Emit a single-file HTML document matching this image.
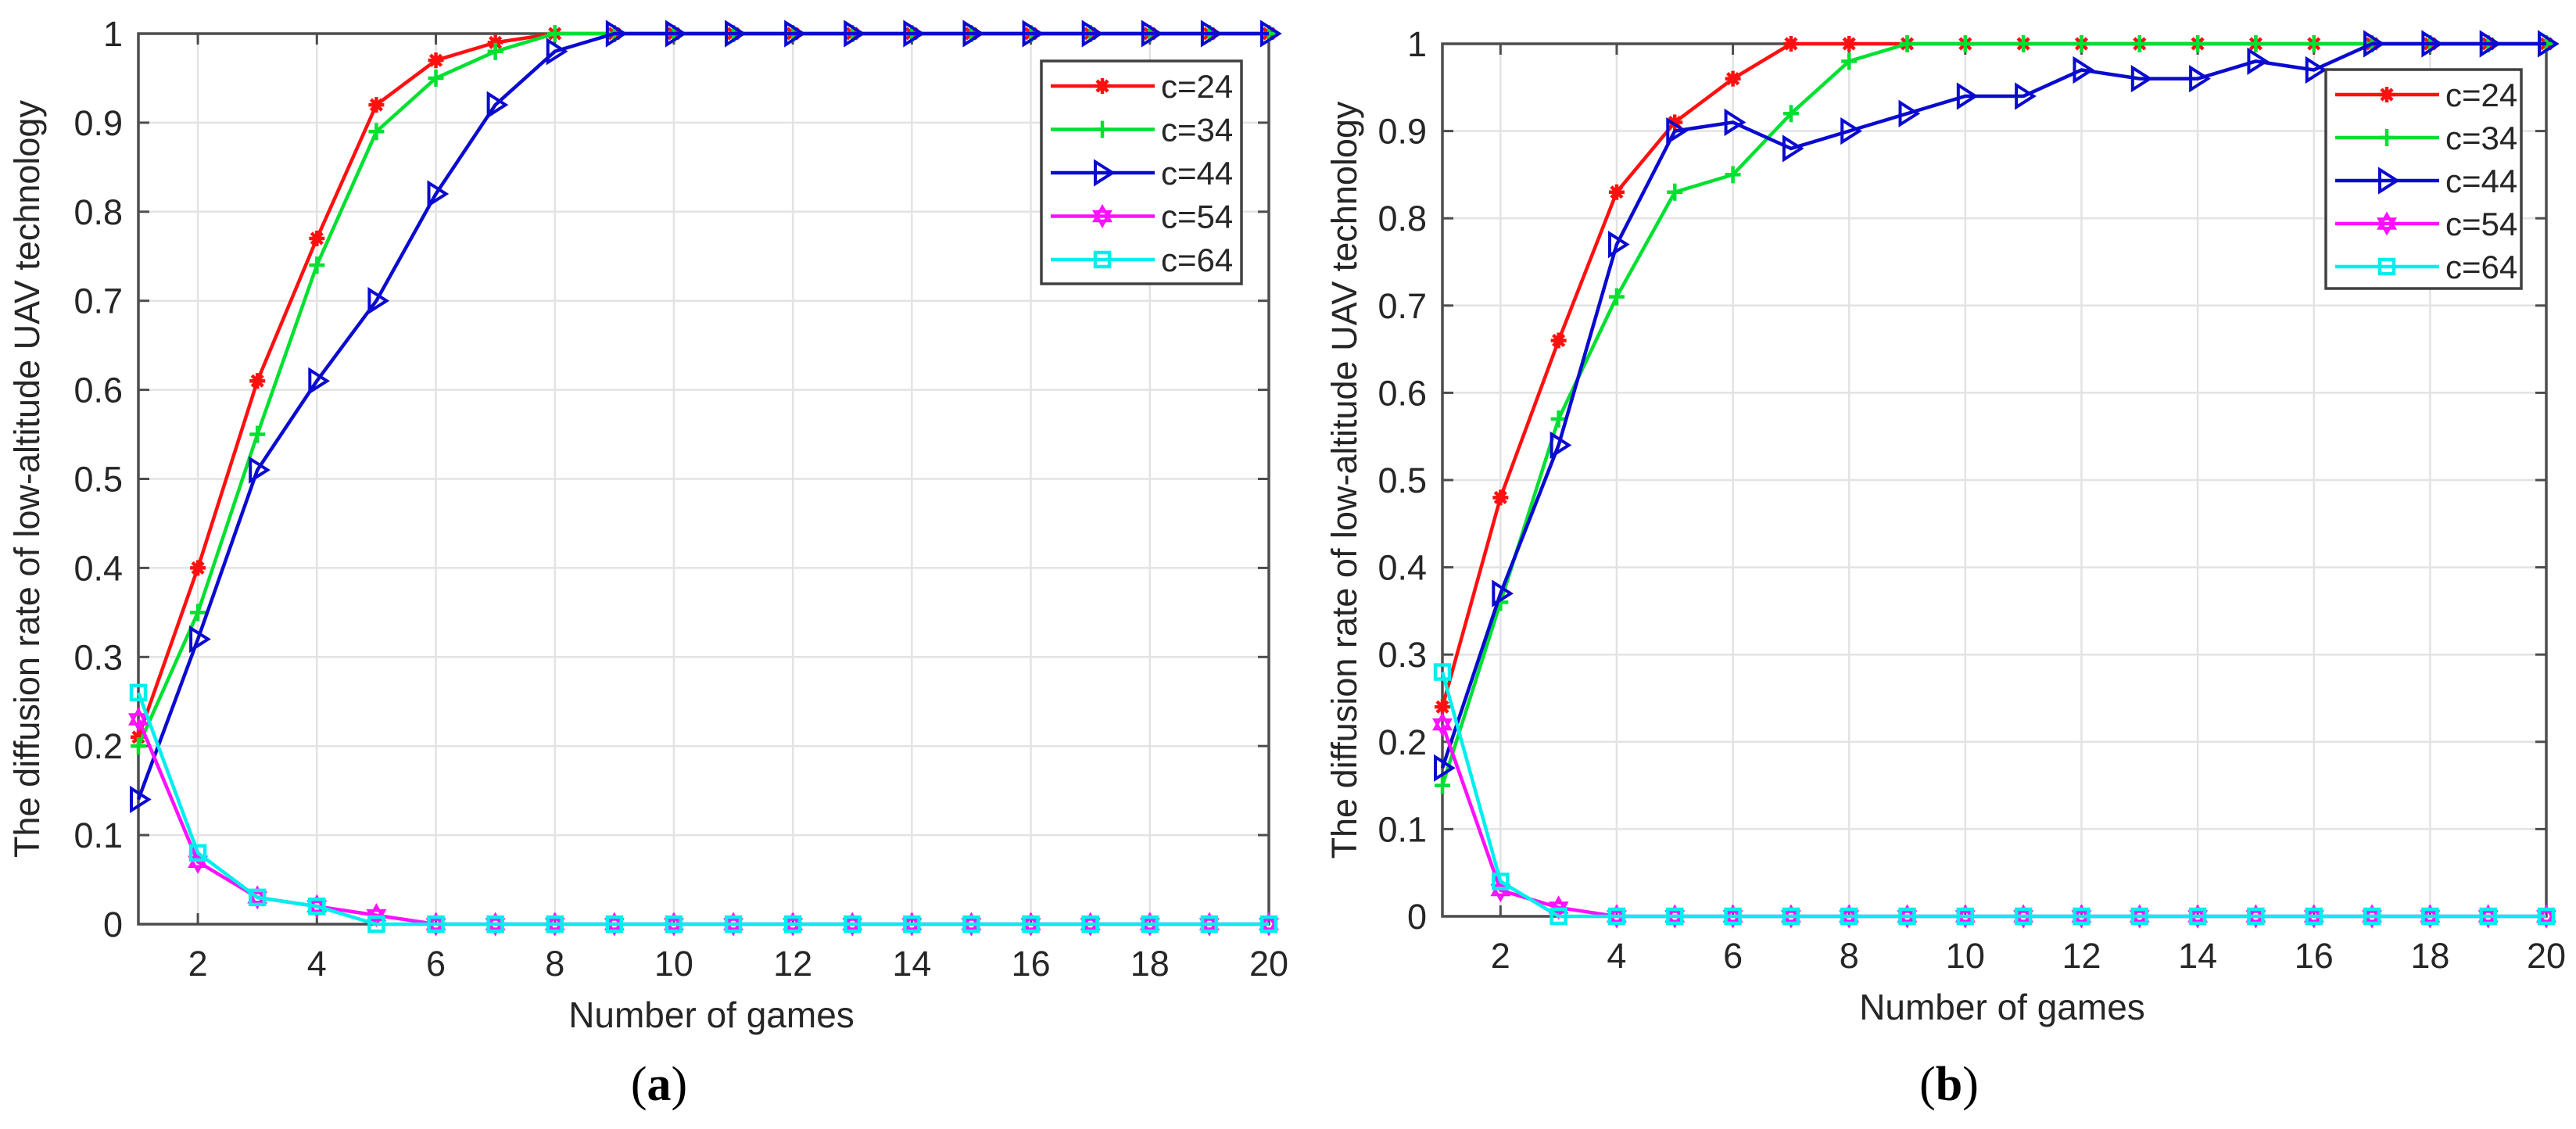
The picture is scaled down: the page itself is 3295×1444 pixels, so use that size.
<!DOCTYPE html>
<html><head><meta charset="utf-8">
<style>
html,body{margin:0;padding:0;background:#fff;}
svg{display:block;}
text{font-family:"Liberation Sans",Arial,sans-serif;fill:#262626;}
</style></head>
<body>
<svg id="fig" width="3295" height="1444" viewBox="0 0 3295 1444" xmlns="http://www.w3.org/2000/svg"></svg>
<script>
const games = [1,2,3,4,5,6,7,8,9,10,11,12,13,14,15,16,17,18,19,20];
const xTicks = [2,4,6,8,10,12,14,16,18,20];
const yTicks = [0,0.1,0.2,0.3,0.4,0.5,0.6,0.7,0.8,0.9,1];
const seriesNames = ["c=24","c=34","c=44","c=54","c=64"];
const a_c24 = [0.21,0.40,0.61,0.77,0.92,0.97,0.99,1,1,1,1,1,1,1,1,1,1,1,1,1];
const a_c34 = [0.20,0.35,0.55,0.74,0.89,0.95,0.98,1,1,1,1,1,1,1,1,1,1,1,1,1];
const a_c44 = [0.14,0.32,0.51,0.61,0.70,0.82,0.92,0.98,1,1,1,1,1,1,1,1,1,1,1,1];
const a_c54 = [0.23,0.07,0.03,0.02,0.01,0,0,0,0,0,0,0,0,0,0,0,0,0,0,0];
const a_c64 = [0.26,0.08,0.03,0.02,0,0,0,0,0,0,0,0,0,0,0,0,0,0,0,0];
const b_c24 = [0.24,0.48,0.66,0.83,0.91,0.96,1,1,1,1,1,1,1,1,1,1,1,1,1,1];
const b_c34 = [0.15,0.36,0.57,0.71,0.83,0.85,0.92,0.98,1,1,1,1,1,1,1,1,1,1,1,1];
const b_c44 = [0.17,0.37,0.54,0.77,0.90,0.91,0.88,0.90,0.92,0.94,0.94,0.97,0.96,0.96,0.98,0.97,1,1,1,1];
const b_c54 = [0.22,0.03,0.01,0,0,0,0,0,0,0,0,0,0,0,0,0,0,0,0,0];
const b_c64 = [0.28,0.04,0,0,0,0,0,0,0,0,0,0,0,0,0,0,0,0,0,0];

const NS="http://www.w3.org/2000/svg";
const svg=document.getElementById('fig');
function mk(tag,attrs,parent){const e=document.createElementNS(NS,tag);for(const k in attrs)e.setAttribute(k,attrs[k]);(parent||svg).appendChild(e);return e;}
const colors=["#ff1010","#00e030","#0a0ad0","#ff10ff","#00eeee"];
const markers=["star","plus","tri","hex","square"];

function marker(g,type,x,y,c){
  if(type==="star"){
    for(const [dx,dy] of [[10,0],[0,10],[7,7],[7,-7]]){mk('line',{x1:x-dx,y1:y-dy,x2:x+dx,y2:y+dy,stroke:c,'stroke-width':4.5},g);}
    mk('circle',{cx:x,cy:y,r:6,fill:c},g);
  }else if(type==="plus"){
    mk('line',{x1:x-10,y1:y,x2:x+10,y2:y,stroke:c,'stroke-width':4.5},g);
    mk('line',{x1:x,y1:y-11,x2:x,y2:y+11,stroke:c,'stroke-width':4.5},g);
  }else if(type==="tri"){
    mk('polygon',{points:`${x-9},${y-14} ${x+13},${y} ${x-9},${y+14}`,fill:"none",stroke:c,'stroke-width':4},g);
  }else if(type==="hex"){
    mk('polygon',{points:`${x},${y-12} ${x+10},${y+6} ${x-10},${y+6}`,fill:"none",stroke:c,'stroke-width':3.5},g);
    mk('polygon',{points:`${x},${y+12} ${x+10},${y-6} ${x-10},${y-6}`,fill:"none",stroke:c,'stroke-width':3.5},g);
  }else{
    mk('rect',{x:x-9,y:y-9,width:18,height:18,fill:"none",stroke:c,'stroke-width':4.5},g);
  }
}

function chart(id,L,T,R,B,data,legend,ylabX,capX,capLabel){
  const g=mk('g',{});
  
  
  const xs=v=>L+(v-1)/19*(R-L);
  const ys=v=>B-v*(B-T);
  mk('rect',{x:L,y:T,width:R-L,height:B-T,fill:"#fff"},g);
  const grid=mk('g',{},g);
  
  
  xTicks.forEach(t=>{mk('line',{x1:xs(t),y1:T,x2:xs(t),y2:B,stroke:"#e3e3e3",'stroke-width':2.5},grid);});
  yTicks.forEach(t=>{mk('line',{x1:L,y1:ys(t),x2:R,y2:ys(t),stroke:"#e3e3e3",'stroke-width':2.5},grid);});
  const ax=mk('g',{},g);
  
  
  mk('rect',{x:L,y:T,width:R-L,height:B-T,fill:"none",stroke:"#4d4d4d",'stroke-width':3.5},ax);
  xTicks.forEach(t=>{
    mk('line',{x1:xs(t),y1:B,x2:xs(t),y2:B-14,stroke:"#4d4d4d",'stroke-width':3},ax);
    mk('line',{x1:xs(t),y1:T,x2:xs(t),y2:T+14,stroke:"#4d4d4d",'stroke-width':3},ax);
    const tx=mk('text',{x:xs(t),y:B+66,'text-anchor':'middle','font-size':45},ax);
    
    
    tx.textContent=t;
  });
  yTicks.forEach(t=>{
    mk('line',{x1:L,y1:ys(t),x2:L+14,y2:ys(t),stroke:"#4d4d4d",'stroke-width':3},ax);
    mk('line',{x1:R,y1:ys(t),x2:R-14,y2:ys(t),stroke:"#4d4d4d",'stroke-width':3},ax);
    const ty=mk('text',{x:L-20,y:ys(t)+16,'text-anchor':'end','font-size':45},ax);
    
    
    ty.textContent=(t===0||t===1)?String(t):t.toFixed(1);
  });
  const xl=mk('text',{x:(L+R)/2+10,y:B+132,'text-anchor':'middle','font-size':46},g);
  
  
  xl.textContent="Number of games";
  const yc=(T+B)/2;
  const yl=mk('text',{x:ylabX,y:yc,'text-anchor':'middle','font-size':45,transform:`rotate(-90 ${ylabX} ${yc})`},g);
  
  
  yl.textContent="The diffusion rate of low-altitude UAV technology";
  data.forEach((arr,i)=>{
    const s=mk('g',{},g);
    
    
    const pts=games.map((x,j)=>xs(x)+','+ys(arr[j])).join(' ');
    mk('polyline',{points:pts,fill:"none",stroke:colors[i],'stroke-width':4.5},s);
    games.forEach((x,j)=>marker(s,markers[i],xs(x),ys(arr[j]),colors[i]));
  });
  const lg=mk('g',{},g);
  
  
  mk('rect',{x:legend.x,y:legend.y,width:legend.w,height:legend.h,fill:"#fff",stroke:"#404040",'stroke-width':3.5},lg);
  seriesNames.forEach((n,i)=>{
    const e=mk('g',{},lg);
    
    
    const yy=legend.y+32+i*legend.step;
    mk('line',{x1:legend.x+12,y1:yy,x2:legend.x+145,y2:yy,stroke:colors[i],'stroke-width':4.5},e);
    marker(e,markers[i],legend.x+78,yy,colors[i]);
    const t=mk('text',{x:legend.x+153,y:yy+15,'font-size':42},e);
    t.textContent=n;
  });
  const cap=mk('text',{x:capX,y:1407,'text-anchor':'middle','font-size':62,style:'font-family:"Liberation Serif",serif;fill:#000'},svg);
  
  
  cap.innerHTML='(<tspan font-weight="bold">'+capLabel+'</tspan>)';
}
chart('chart-a',177,43,1623,1182,[a_c24,a_c34,a_c44,a_c54,a_c64],{x:1332,y:78,w:256,h:285,step:55.5},50,843,'a');
chart('chart-b',1845,56,3257,1172,[b_c24,b_c34,b_c44,b_c54,b_c64],{x:2975,y:89,w:250,h:280,step:55},1735,2493,'b');
</script>
</body></html>
